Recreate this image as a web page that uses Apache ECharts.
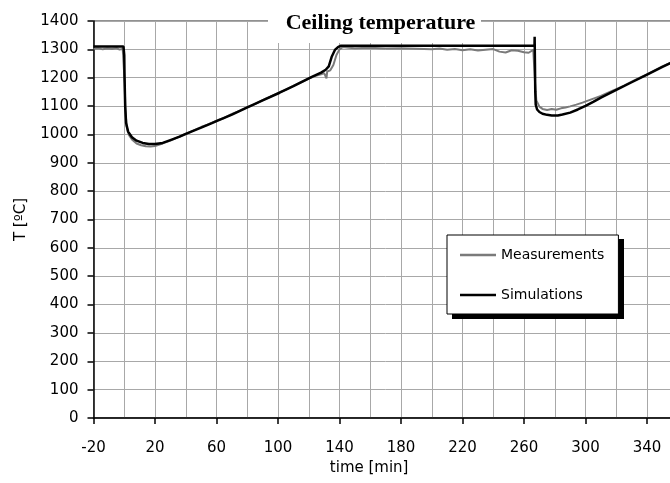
<!DOCTYPE html>
<html>
<head>
<meta charset="utf-8">
<script src="https://cdn.jsdelivr.net/npm/echarts@6/dist/echarts.min.js"></script>
<style>
html,body{margin:0;padding:0;overflow:hidden;background:#fff;width:670px;height:483px;}
#c{width:700px;height:483px;}
</style>
</head>
<body>
<div id="c"></div>
<script>
// ---- data ----
const titleText = 'Ceiling temperature';
const xName = 'time [min]';
const yName = 'T [ºC]';
const seriesNames = ['Measurements', 'Simulations'];

const measT = [-20,-17,-14,-11,-8,-5,-3,-1,0,0.3,0.7,1.5,3,5,8,11,14,17,20,23,26,30,34,38,42,46,50,55,60,65,70,75,80,85,90,95,100,105,110,115,120,124,128,130,131,131.5,132,134,136,138,140,142,146,150,160,170,180,190,200,205,210,215,220,225,230,235,240,244,248,252,256,260,263,266,266.8,267.2,268,270,272,275,278,281,284,287,290,294,298,302,306,310,315,320,325,330,335,340,345,350,355,360];
const measV = [1302,1304,1300,1303,1301,1304,1299,1302,1300,1180,1090,1030,998,982,968,962,958,957,959,964,970,978,988,997,1006,1016,1026,1036,1049,1058,1072,1083,1096,1107,1121,1133,1146,1157,1171,1184,1197,1206,1212,1216,1220,1198,1222,1226,1245,1280,1300,1308,1306,1304,1306,1303,1304,1302,1300,1303,1299,1301,1297,1300,1296,1299,1301,1292,1289,1297,1295,1290,1288,1298,1300,1180,1120,1098,1090,1086,1090,1087,1092,1095,1099,1105,1112,1120,1128,1136,1148,1160,1172,1186,1199,1212,1226,1240,1252,1265];

const simT = [-20,-0.5,0,0.2,0.6,1.2,2.5,5,8,12,16,20,25,30,36,40,50,57,60,70,79,90,101,110,122,128,131,133,135,137,139,141,200,266.8,266.9,267.1,267.3,267.6,268.5,270,272,275,278,282,285,290,295,300,305,310,320,330,340,350,360];
const simV = [1310,1310,1280,1200,1100,1040,1010,990,978,970,966,966,970,980,992,1002,1024,1040,1047,1070,1093,1120,1147,1170,1203,1218,1228,1240,1275,1298,1308,1313,1313,1313,1344,1250,1150,1105,1088,1079,1073,1069,1067,1067,1070,1077,1088,1101,1115,1130,1157,1184,1211,1238,1264];

const xMin = -20, xMax = 360, xStep = 40, xLastLabel = 340;
const yMin = 0, yMax = 1400, yStep = 100;

// ---- chart ----
const zip = (a, b) => a.map((v, i) => [v, b[i]]);
const chart = echarts.init(document.getElementById('c'), null, {renderer: 'canvas'});
const F = 'DejaVu Sans';

chart.setOption({
  animation: false,
  backgroundColor: '#fff',
  grid: {left: 93.5, right: 22.2, top: 21, bottom: 65, show: true, borderColor: '#222', borderWidth: 1, backgroundColor: 'transparent'},
  xAxis: {
    type: 'value', min: xMin, max: xMax, interval: xStep,
    name: xName, nameLocation: 'middle', nameGap: 43,
    nameTextStyle: {fontFamily: F, fontSize: 15, color: '#000', padding: [0, 33, 0, 0]},
    axisLine: {onZero: false, lineStyle: {color: '#000', width: 1.5}},
    axisTick: {show: true, length: 6, lineStyle: {color: '#000', width: 1.5}},
    axisLabel: {fontFamily: F, fontSize: 15, color: '#000', margin: 23,
      formatter: v => (v > xLastLabel ? '' : String(v))},
    splitLine: {show: true, lineStyle: {color: '#a8a8a8', width: 1}},
    minorTick: {show: false, splitNumber: 2},
    minorSplitLine: {show: true, lineStyle: {color: '#a8a8a8', width: 1}}
  },
  yAxis: {
    type: 'value', min: yMin, max: yMax, interval: yStep,
    name: yName, nameLocation: 'middle', nameGap: 65, nameRotate: 90,
    nameTextStyle: {fontFamily: F, fontSize: 15, color: '#000'},
    axisLine: {show: true, onZero: false, lineStyle: {color: '#000', width: 1.5}},
    axisTick: {show: true, length: 6, lineStyle: {color: '#000', width: 1.5}},
    axisLabel: {fontFamily: F, fontSize: 15, color: '#000', margin: 15, formatter: v => String(v)},
    splitLine: {show: true, lineStyle: {color: '#a8a8a8', width: 1}}
  },
  legend: {
    orient: 'vertical', left: 447, top: 235, z: 6,
    padding: [12, 14, 11, 13], itemGap: 24,
    itemWidth: 36, itemHeight: 2.5,
    backgroundColor: '#fff', borderColor: '#000', borderWidth: 1,
    textStyle: {fontFamily: F, fontSize: 14, color: '#000', lineHeight: 16},
    data: [
      {name: seriesNames[0], icon: 'rect'},
      {name: seriesNames[1], icon: 'rect'}
    ]
  },
  graphic: [
    {type: 'rect', z: 1, shape: {x: 268, y: 8, width: 213, height: 35}, style: {fill: '#fff'}, silent: true},
    {type: 'text', z: 3, x: 380.5, y: 23.3, style: {text: titleText, font: 'bold 22px "Liberation Serif"', fill: '#000', align: 'center', verticalAlign: 'middle'}, silent: true},
    {type: 'rect', z: 5, shape: {x: 452, y: 239, width: 172, height: 80}, style: {fill: '#000'}, silent: true}
  ],
  series: [
    {name: seriesNames[0], type: 'line', data: zip(measT, measV), showSymbol: false, symbol: 'none', z: 3,
     color: '#7a7a7a', lineStyle: {color: '#7a7a7a', width: 2}},
    {name: seriesNames[1], type: 'line', data: zip(simT, simV), showSymbol: false, symbol: 'none', z: 4,
     color: '#000', lineStyle: {color: '#000', width: 2.5}}
  ]
});
</script>
</body>
</html>
